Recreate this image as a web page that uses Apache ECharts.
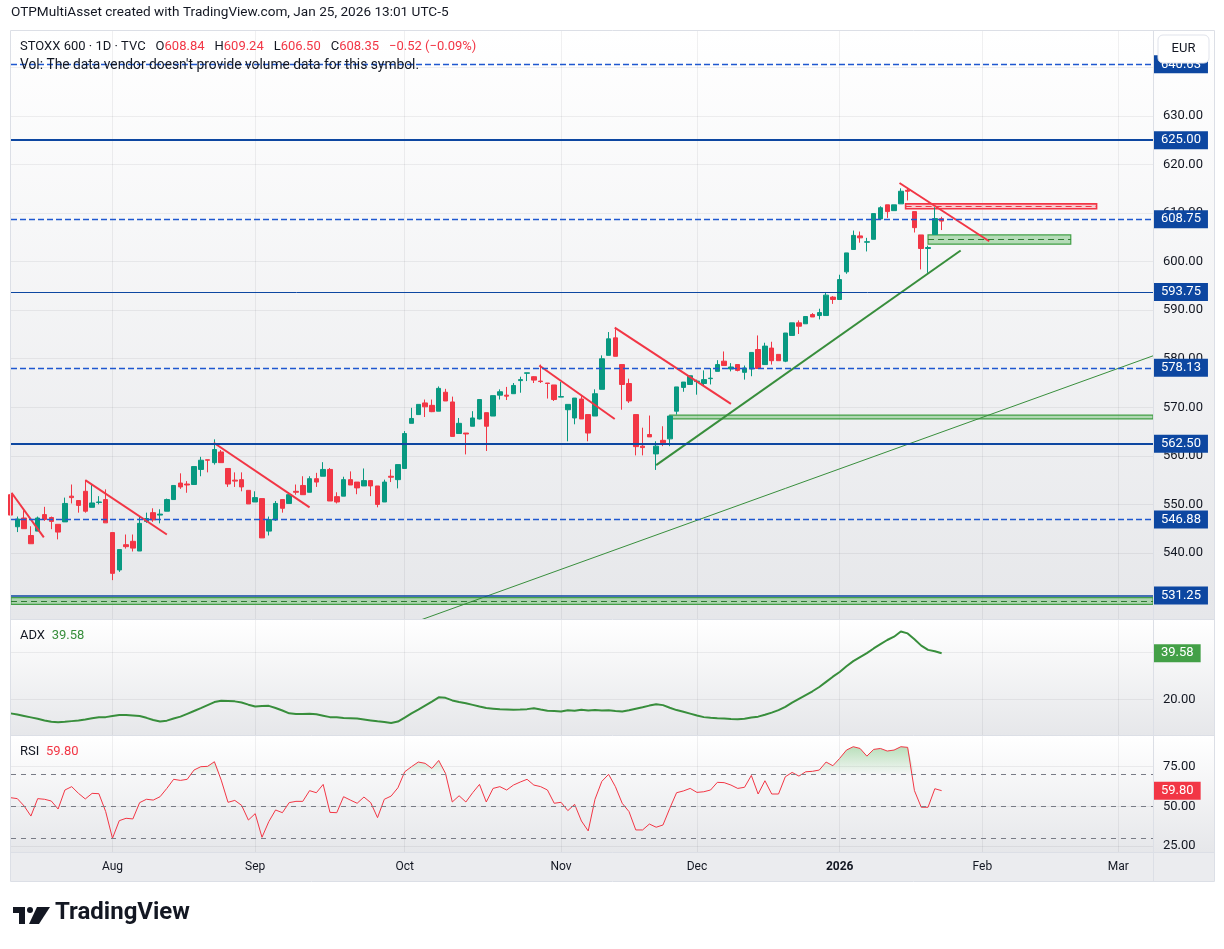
<!DOCTYPE html>
<html>
<head>
<meta charset="utf-8">
<title>STOXX 600 1D</title>
<script src="https://cdn.jsdelivr.net/npm/echarts@6/dist/echarts.min.js"></script>
<style>
  html, body { margin: 0; padding: 0; background: #ffffff; }
  #chart { width: 1224px; height: 949px; }
</style>
</head>
<body>
<div id="chart"></div>
<script>
// ---------- data (bar index 0 = 11 Jul 2025, daily trading sessions) ----------
const monthTicks = [15, 36, 58, 81, 101, 122, 143, 163];
const monthNames = ['Aug', 'Sep', 'Oct', 'Nov', 'Dec', '2026', 'Feb', 'Mar'];

const opens = [552.0,545.4,547.2,543.6,544.5,547.9,547.3,545.9,546.4,551.7,
  550.8,552.7,549.4,550.4,551.0,544.2,536.5,541.7,542.4,540.4,
  546.5,548.3,547.8,548.6,551.0,554.4,554.2,554.1,557.2,559.2,
  558.6,560.8,557.4,555.0,555.1,552.9,550.5,551.2,544.5,546.8,
  551.0,550.2,552.7,553.9,552.5,555.3,555.8,557.2,551.6,551.7,
  555.1,554.6,553.8,554.9,553.8,550.5,555.8,555.1,557.4,566.7,
  568.5,570.9,570.4,569.2,573.1,571.1,564.6,564.7,566.1,567.6,
  568.9,568.2,572.5,572.5,572.8,575.5,577.0,576.3,575.4,575.0,
  574.6,572.1,569.5,567.8,571.7,568.5,568.2,573.7,580.7,584.3,
  578.8,574.9,568.5,562.0,564.4,560.4,563.2,563.5,569.2,574.1,
  574.7,575.3,574.9,575.9,577.4,579.5,577.9,578.8,577.2,577.9,
  581.9,578.8,582.2,580.9,579.5,584.8,587.4,587.2,589.1,588.9,
  588.9,592.7,592.2,597.9,602.5,605.3,604.0,604.6,608.8,611.7,
  610.5,611.9,614.7,610.3,605.5,602.7,605.6,608.84];
const highs = [553.0,547.5,548.8,545.5,547.5,549.5,547.5,545.9,551.4,554.1,
  550.8,555.0,554.1,551.7,553.1,544.2,540.7,543.8,543.8,547.5,
  548.3,549.2,549.0,551.2,553.9,556.4,554.8,557.8,559.8,559.2,
  563.4,561.2,557.4,556.6,556.6,552.9,552.7,551.2,547.5,550.7,
  551.0,552.5,554.1,555.8,555.8,556.5,558.7,557.5,552.5,555.7,
  556.8,554.6,557.4,555.0,553.8,555.1,557.2,558.2,565.1,569.9,
  570.6,571.6,571.6,574.3,573.8,572.2,567.8,564.7,569.2,571.6,
  568.9,572.4,573.7,574.2,575.0,576.3,577.1,576.4,578.8,575.0,
  574.6,575.2,570.6,571.9,572.3,568.5,573.7,580.7,585.5,586.1,
  578.8,575.9,568.5,565.8,568.3,563.0,566.1,568.2,574.2,575.2,
  576.5,575.7,577.6,578.1,579.7,581.5,579.1,578.8,578.6,581.3,
  584.8,583.3,583.5,580.9,585.3,587.4,587.9,588.7,589.4,590.3,
  593.7,592.9,597.3,601.8,606.4,606.2,604.9,609.9,611.4,611.7,
  611.7,615.1,615.1,610.3,605.5,603.3,611.2,609.24];
const lows = [547.3,544.3,545.0,541.9,544.5,546.6,544.9,542.8,546.4,550.2,
  548.3,548.3,549.4,550.0,546.2,534.4,536.1,540.9,540.3,540.4,
  546.2,546.4,546.1,548.6,551.0,553.2,552.4,554.1,555.8,556.6,
  558.2,558.6,553.6,553.6,552.7,550.1,550.5,543.1,543.6,546.6,
  548.3,550.2,552.0,552.0,552.5,553.6,555.8,550.7,550.2,551.7,
  554.0,552.1,553.8,551.7,549.4,550.5,554.6,553.3,557.4,566.7,
  568.5,568.0,569.0,569.2,571.3,564.0,564.6,560.3,566.1,567.5,
  561.0,568.2,571.6,571.5,572.8,573.0,575.4,575.0,575.0,571.8,
  571.3,572.1,563.0,566.5,567.6,563.0,568.2,573.7,580.7,580.5,
  569.5,570.9,560.1,560.1,563.9,557.1,562.0,562.0,568.5,573.2,
  574.7,572.6,574.5,574.7,577.4,578.6,577.4,577.4,575.7,576.4,
  578.0,578.8,578.8,579.6,579.3,584.8,585.1,587.2,588.6,588.1,
  588.9,591.3,592.2,597.5,602.5,603.9,602.1,604.6,608.8,609.0,
  610.5,611.9,612.6,606.0,598.4,597.7,605.6,606.50];
const closes = [547.8,547.0,545.0,541.9,547.2,546.9,546.5,544.3,550.2,551.4,
  549.8,548.6,550.3,550.5,546.2,535.8,540.7,541.3,541.0,546.1,
  547.1,546.8,548.0,551.0,553.9,553.6,554.0,557.8,559.1,559.1,
  561.3,558.6,554.2,554.8,553.6,550.1,551.4,543.1,546.9,550.2,
  549.2,552.0,552.5,552.0,555.3,554.6,557.2,550.7,550.5,555.1,
  554.0,553.4,554.9,553.8,550.0,554.6,555.6,558.2,564.6,567.7,
  570.6,570.1,569.1,573.9,571.3,564.0,566.7,564.5,567.8,571.6,
  566.1,572.4,573.2,572.3,574.5,575.7,577.1,575.6,575.3,574.9,
  571.6,572.2,570.6,571.9,567.6,564.7,572.8,580.0,584.1,580.5,
  574.7,571.3,561.9,561.7,563.9,562.0,562.7,568.2,574.2,575.2,
  576.5,575.4,575.7,576.0,578.8,578.6,578.3,577.6,578.1,581.3,
  578.0,582.6,579.6,579.6,585.3,587.4,586.7,588.7,588.6,589.5,
  593.1,592.2,596.3,601.8,605.4,604.9,604.1,609.9,611.1,610.3,
  611.7,614.5,614.5,607.0,602.7,602.9,608.87,608.35];

const adxValues = [14.0,13.5,12.9,12.3,11.7,11.0,10.4,10.2,10.4,10.7,
  11.0,11.4,11.9,12.3,12.4,12.9,13.3,13.3,13.1,12.9,
  12.1,11.2,10.5,10.9,11.8,12.6,13.8,15.0,16.2,17.5,
  18.8,19.4,19.3,19.1,18.6,17.7,16.9,17.1,17.2,16.3,
  15.2,14.0,13.7,13.7,13.8,13.6,13.0,12.4,12.3,12.0,
  11.9,11.8,11.4,11.0,10.6,10.3,9.9,10.5,12.2,14.0,
  15.6,17.3,19.0,20.8,20.6,19.5,18.8,18.3,17.6,16.9,
  16.3,16.0,15.7,15.6,15.5,15.6,15.8,16.2,15.6,15.1,
  15.0,14.8,15.3,15.1,15.5,15.2,15.4,15.2,15.3,15.0,
  14.8,15.3,16.0,16.6,17.3,17.9,17.5,16.4,15.4,14.7,
  13.9,13.1,12.4,12.1,11.9,11.8,11.6,11.5,11.7,12.2,
  12.6,13.4,14.3,15.4,16.8,18.6,20.2,21.8,23.4,25.2,
  27.4,29.6,31.6,34.0,36.2,37.9,39.6,41.6,43.4,45.2,
  46.6,48.8,48.0,45.5,42.8,41.0,40.4,39.58];

const rsiValues = [55.4,54.8,50.2,43.9,54.8,54.4,53.3,48.3,60.2,62.3,
  58.1,54.6,58.1,57.9,46.7,30.0,41.0,42.5,42.1,52.3,
  54.4,53.9,56.0,61.2,66.9,66.2,66.9,72.7,74.8,75.0,
  77.9,66.4,52.5,53.7,50.6,41.4,45.4,30.6,40.4,47.7,
  46.0,52.3,53.1,53.1,59.8,58.5,63.7,46.2,46.0,56.0,
  53.9,51.9,55.8,52.3,42.9,54.4,56.4,61.6,71.6,74.8,
  77.7,76.9,73.7,78.7,70.6,52.7,56.6,52.7,58.5,63.7,
  52.7,61.2,62.3,60.2,63.3,65.2,66.9,63.3,62.3,60.2,
  51.9,52.5,47.3,51.2,40.8,34.6,54.4,65.6,70.0,62.3,
  51.9,46.7,35.2,35.2,38.9,36.9,38.3,48.7,58.5,59.6,
  61.2,58.7,59.1,60.2,65.0,64.8,63.3,61.2,61.9,69.3,
  57.7,66.0,57.7,57.7,68.5,71.2,68.9,71.6,71.9,72.7,
  77.7,75.4,80.0,85.2,87.3,86.2,81.4,85.6,86.2,84.6,
  85.2,87.3,86.9,59.8,49.4,49.4,61.0,59.8];

// horizontal levels drawn on the chart
const solidLevels = [625.00, 593.75, 562.50, 531.25];
const solidWidths = [2, 1, 2, 1.5];
const dashedLevels = [640.63, 608.75, 578.13, 546.88];

// trend lines as [bar index, price] pairs
const redTrends = [
  [[0.15, 552.4], [4.9, 543.2]],
  [[11.0, 555.0], [23.0, 543.8]],
  [[29.9, 562.7], [44.0, 549.4]],
  [[77.8, 578.6], [88.9, 567.6]],
  [[88.9, 586.4], [106.0, 570.7]],
  [[130.8, 616.2], [144.0, 604.2]]
];
const greenTrend = [[95.0, 558.1], [139.8, 602.3]];
const greenLongTrend = [[55.0, 523.5], [168.1, 580.6]];

// zones: [x1, y1, x2, y2, dashed midline or null]
const greenZones = [
  [0.07, 529.4, 168.1, 530.8, 530.1],
  [97.0, 567.6, 168.1, 568.4, null],
  [135.0, 603.6, 156.0, 605.5, 604.55]
];
const redZones = [
  [131.7, 610.9, 159.8, 611.9, 611.4]
];

const priceTicks = [540, 550, 560, 570, 580, 590, 600, 610, 620, 630, 640];

// ---------- styling ----------
const FONT = 'Roboto, "Noto Sans", sans-serif';
const TEXT = '#131722';
const UP = '#089981';
const DOWN = '#f23645';
const GREEN = '#388e3c';
const BLUE = '#0d47a1';
const DASH_BLUE = '#1f58d0';
const GRID_COLOR = 'rgba(42,46,57,0.07)';
const X_MIN = 0.07, X_MAX = 168.1;

const chart = echarts.init(document.getElementById('chart'));

const last = closes.length - 1;
const change = closes[last] - closes[last - 1];
const changePct = change / closes[last - 1] * 100;
const fmt = v => v.toFixed(2);
const signed = v => (v < 0 ? '\u2212' : '+') + Math.abs(v).toFixed(2);

const candleData = closes.map((c, i) => [i, opens[i], c, lows[i], highs[i]]);
const adxData = adxValues.map((v, i) => [i, v]);
const rsiData = rsiValues.map((v, i) => [i, v]);
const obData = rsiValues.map((v, i) => [i, Math.max(v, 70)]);

const tagLabel = bg => ({
  show: true, position: 'end', distance: 1,
  backgroundColor: bg, color: '#ffffff', fontSize: 13, fontFamily: FONT,
  padding: [2, 7, 1, 7], lineHeight: 15
});

// price tag on the right axis, without a visible line
function tag(value, bg) {
  return {
    yAxis: value,
    lineStyle: { color: 'rgba(0,0,0,0)', width: 0, type: 'solid' },
    label: Object.assign(tagLabel(bg), { formatter: fmt(value) })
  };
}

function zoneAreas(zones, fill, border, bw) {
  return zones.map(z => [
    { coord: [z[0], z[1]], itemStyle: { color: fill, borderColor: border, borderWidth: bw } },
    { coord: [z[2], z[3]] }
  ]);
}
function zoneMids(zones, color) {
  return zones.filter(z => z[4] != null).map(z => [
    { coord: [z[0], z[4]], lineStyle: { color: color, width: 1, type: [6, 4] }, label: { show: false } },
    { coord: [z[2], z[4]] }
  ]);
}

const trendSeries = redTrends.map(seg => ({
  type: 'line', xAxisIndex: 0, yAxisIndex: 0, data: seg, symbol: 'none', silent: true,
  lineStyle: { color: DOWN, width: 2 }, z: 4
}));
trendSeries.push({
  type: 'line', xAxisIndex: 0, yAxisIndex: 0, data: greenTrend, symbol: 'none', silent: true,
  lineStyle: { color: GREEN, width: 2 }, z: 4
});
trendSeries.push({
  type: 'line', xAxisIndex: 0, yAxisIndex: 0, data: greenLongTrend, symbol: 'none', silent: true,
  lineStyle: { color: GREEN, width: 1 }, z: 4
});

const paneBg = (top, h) => ({
  type: 'rect', z: -10, silent: true,
  shape: { x: 11, y: top, width: 1203, height: h },
  style: {
    fill: new echarts.graphic.LinearGradient(0, 0, 0, 1, [
      { offset: 0, color: '#ffffff' }, { offset: 1, color: '#e6e7ea' }
    ])
  }
});
const hLine = (y) => ({
  type: 'line', z: 50, silent: true,
  shape: { x1: 11, y1: y, x2: 1214, y2: y },
  style: { stroke: '#dcdfe6', lineWidth: 1 }
});

const option = {
  animation: false,
  backgroundColor: '#ffffff',
  textStyle: { fontFamily: FONT },
  grid: [
    { left: 11, top: 31, width: 1142, height: 588 },
    { left: 11, top: 620, width: 1142, height: 115 },
    { left: 11, top: 736, width: 1142, height: 116 }
  ],
  xAxis: [0, 1, 2].map(k => ({
    type: 'value', gridIndex: k, min: X_MIN, max: X_MAX,
    axisLine: { show: false },
    axisTick: { show: false, customValues: monthTicks },
    axisLabel: k === 2 ? {
      customValues: monthTicks, color: TEXT, fontSize: 12, margin: 9,
      formatter: v => {
        const name = monthNames[monthTicks.indexOf(v)];
        return name === '2026' ? '{b|2026}' : name;
      },
      rich: { b: { fontWeight: 'bold', fontSize: 12, color: TEXT } }
    } : { show: false },
    splitLine: { show: true, lineStyle: { color: GRID_COLOR } }
  })),
  yAxis: [
    {
      gridIndex: 0, type: 'value', position: 'right', min: 526.4, max: 647.5,
      axisLine: { show: false },
      axisTick: { show: false, customValues: priceTicks },
      axisLabel: { customValues: priceTicks, formatter: v => v.toFixed(2), color: TEXT, fontSize: 13, margin: 10 },
      splitLine: { lineStyle: { color: GRID_COLOR } }
    },
    {
      gridIndex: 1, type: 'value', position: 'right', min: 4.8, max: 53.7,
      axisLine: { show: false },
      axisTick: { show: false, customValues: [20, 40] },
      axisLabel: { customValues: [20], formatter: v => v.toFixed(2), color: TEXT, fontSize: 13, margin: 10 },
      splitLine: { lineStyle: { color: GRID_COLOR } }
    },
    {
      gridIndex: 2, type: 'value', position: 'right', min: 21.4, max: 94,
      axisLine: { show: false },
      axisTick: { show: false, customValues: [25, 50, 75] },
      axisLabel: { customValues: [25, 50, 75], formatter: v => v.toFixed(2), color: TEXT, fontSize: 13, margin: 10 },
      splitLine: { lineStyle: { color: GRID_COLOR } }
    }
  ],
  series: [
    {
      type: 'line', xAxisIndex: 0, yAxisIndex: 0, data: [], clip: false, silent: true,
      markArea: {
        silent: true,
        data: zoneAreas(greenZones, 'rgba(76,175,80,0.38)', '#43a047', 1.2)
          .concat(zoneAreas(redZones, 'rgba(242,54,69,0.22)', DOWN, 1.6))
      },
      markLine: {
        silent: true, symbol: ['none', 'none'],
        data: zoneMids(greenZones, '#2e7d32').concat(zoneMids(redZones, DOWN))
      }
    },
    {
      type: 'candlestick', xAxisIndex: 0, yAxisIndex: 0, data: candleData, barWidth: 5,
      itemStyle: { color: UP, color0: DOWN, borderColor: UP, borderColor0: DOWN, borderWidth: 1 },
      z: 3
    },
    ...trendSeries,
    {
      type: 'line', xAxisIndex: 0, yAxisIndex: 0, data: [], clip: false, silent: true, z: 5,
      markLine: {
        silent: true, symbol: ['none', 'none'],
        lineStyle: { color: DASH_BLUE, width: 1.4, type: [6, 3], opacity: 1 },
        label: Object.assign(tagLabel(BLUE), { formatter: p => fmt(p.value) }),
        data: dashedLevels.map(v => ({ yAxis: v }))
      }
    },
    {
      type: 'line', xAxisIndex: 0, yAxisIndex: 0, data: [], clip: false, silent: true, z: 5,
      markLine: {
        silent: true, symbol: ['none', 'none'],
        lineStyle: { color: BLUE, width: 1, type: 'solid', opacity: 1 },
        label: Object.assign(tagLabel(BLUE), { formatter: p => fmt(p.value) }),
        data: solidLevels.map((v, k) => ({ yAxis: v, lineStyle: { width: solidWidths[k] } }))
      }
    },
    {
      type: 'line', xAxisIndex: 1, yAxisIndex: 1, data: adxData, symbol: 'none', silent: true,
      lineStyle: { color: GREEN, width: 2 }
    },
    {
      type: 'line', xAxisIndex: 1, yAxisIndex: 1, data: [], clip: false, silent: true, z: 6,
      markLine: { silent: true, symbol: ['none', 'none'], data: [tag(adxValues[last], '#43a047')] }
    },
    {
      type: 'line', xAxisIndex: 2, yAxisIndex: 2, data: obData, symbol: 'none', silent: true,
      lineStyle: { opacity: 0 },
      areaStyle: {
        origin: 70,
        color: new echarts.graphic.LinearGradient(0, 0, 0, 1, [
          { offset: 0, color: 'rgba(76,175,80,0.55)' }, { offset: 1, color: 'rgba(76,175,80,0.02)' }
        ])
      }
    },
    {
      type: 'line', xAxisIndex: 2, yAxisIndex: 2, data: rsiData, symbol: 'none', silent: true,
      lineStyle: { color: DOWN, width: 1 },
      markLine: {
        silent: true, symbol: ['none', 'none'],
        lineStyle: { color: '#787b86', width: 1, type: [5, 5] },
        label: { show: false },
        data: [{ yAxis: 70 }, { yAxis: 50 }, { yAxis: 30 }]
      }
    },
    {
      type: 'line', xAxisIndex: 2, yAxisIndex: 2, data: [], clip: false, silent: true, z: 6,
      markLine: { silent: true, symbol: ['none', 'none'], data: [tag(rsiValues[last], DOWN)] }
    }
  ],
  graphic: [
    paneBg(31, 588), paneBg(620, 115), paneBg(736, 116),
    {
      type: 'rect', z: -10, silent: true, shape: { x: 11, y: 852, width: 1203, height: 29 },
      style: { fill: '#ebecef' }
    },
    hLine(619.5), hLine(735.5), hLine(852.5),
    {
      type: 'line', z: 50, silent: true, shape: { x1: 1153.5, y1: 31, x2: 1153.5, y2: 881 },
      style: { stroke: '#dcdfe6', lineWidth: 1 }
    },
    {
      type: 'rect', z: 50, silent: true, shape: { x: 10.5, y: 30.5, width: 1204, height: 851 },
      style: { fill: 'none', stroke: '#dcdfe6', lineWidth: 1 }
    },
    {
      type: 'text', left: 11, top: 6, silent: true,
      style: { text: 'OTPMultiAsset created with TradingView.com, Jan 25, 2026 13:01 UTC-5', fill: TEXT, font: '13.6px ' + FONT }
    },
    {
      type: 'text', left: 20, top: 40, silent: true, z: 60,
      style: {
        text: '{t|STOXX 600 \u00b7 1D \u00b7 TVC}   {k|O}{v|' + fmt(opens[last]) + '}   {k|H}{v|' + fmt(highs[last]) +
          '}   {k|L}{v|' + fmt(lows[last]) + '}   {k|C}{v|' + fmt(closes[last]) + '}   {v|' + signed(change) +
          ' (' + signed(changePct) + '%)}',
        rich: {
          t: { fill: TEXT, fontSize: 13, fontFamily: FONT },
          k: { fill: TEXT, fontSize: 13, fontFamily: FONT },
          v: { fill: DOWN, fontSize: 13, fontFamily: FONT }
        }
      }
    },
    {
      type: 'text', left: 20, top: 59, silent: true, z: 60,
      style: { text: 'Vol: The data vendor doesn\'t provide volume data for this symbol.', fill: TEXT, font: '13.8px ' + FONT }
    },
    {
      type: 'text', left: 20, top: 629, silent: true, z: 60,
      style: {
        text: '{k|ADX}  {v|' + fmt(adxValues[last]) + '}',
        rich: { k: { fill: TEXT, fontSize: 13, fontFamily: FONT }, v: { fill: GREEN, fontSize: 13, fontFamily: FONT } }
      }
    },
    {
      type: 'text', left: 20, top: 745, silent: true, z: 60,
      style: {
        text: '{k|RSI}  {v|' + fmt(rsiValues[last]) + '}',
        rich: { k: { fill: TEXT, fontSize: 13, fontFamily: FONT }, v: { fill: DOWN, fontSize: 13, fontFamily: FONT } }
      }
    },
    {
      type: 'rect', z: 100, silent: true, shape: { x: 1158, y: 35, width: 51, height: 28, r: 5 },
      style: { fill: '#ffffff', stroke: '#e0e3eb', lineWidth: 1 }
    },
    {
      type: 'text', z: 101, silent: true, x: 1183.5, y: 48.5,
      style: { text: 'EUR', fill: TEXT, font: '13px ' + FONT, align: 'center', verticalAlign: 'middle' }
    },
    // TradingView logo
    { type: 'rect', silent: true, shape: { x: 13, y: 907, width: 12, height: 6 }, style: { fill: '#131722' } },
    { type: 'rect', silent: true, shape: { x: 19, y: 907, width: 6, height: 17 }, style: { fill: '#131722' } },
    { type: 'circle', silent: true, shape: { cx: 30, cy: 910, r: 3 }, style: { fill: '#131722' } },
    {
      type: 'polygon', silent: true,
      shape: { points: [[37, 907], [50, 907], [39, 924], [29, 924]] }, style: { fill: '#131722' }
    },
    {
      type: 'text', left: 55, top: 901, silent: true,
      style: { text: 'TradingView', fill: '#131722', font: 'bold 24px ' + FONT }
    }
  ]
};

chart.setOption(option);
</script>
</body>
</html>
